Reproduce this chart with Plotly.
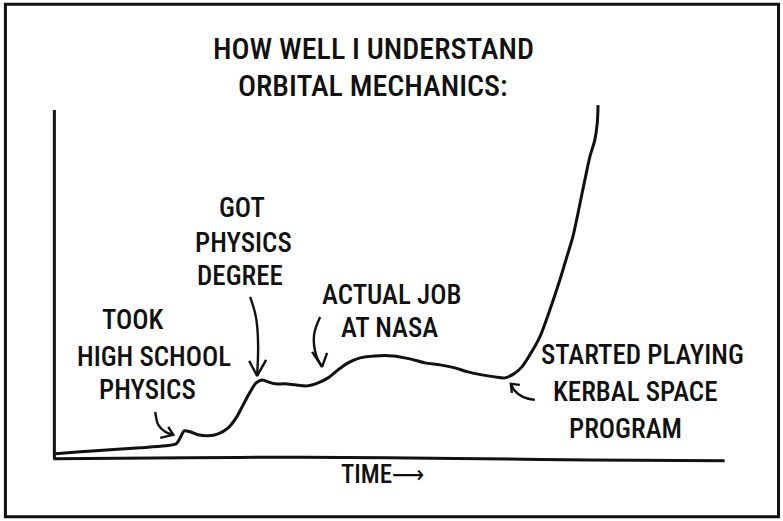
import plotly.graph_objects as go

# ---- data (time in arbitrary units 0-100, understanding 0-100) ----
time = [0.15, 3.89, 8.37, 12.86, 16.59, 18.24, 18.83, 19.43, 20.33, 21.52, 23.02, 24.51,
        26.01, 27.20, 28.25, 29.30, 30.19, 31.09, 31.99, 33.03, 34.53, 36.02, 37.82, 39.46,
        40.96, 42.45, 43.95, 45.74, 47.98, 50.67, 53.21, 55.46, 57.70, 59.94, 61.88, 63.98,
        65.92, 67.41, 68.76, 69.96, 71.15, 72.65, 74.14, 75.64, 76.68, 77.58, 79.07, 80.12,
        80.87, 81.24, 81.36]
understanding = [1.41, 1.97, 2.54, 3.10, 3.66, 4.23, 5.92, 7.89, 7.61, 6.76, 6.48, 7.04,
                 8.73, 11.55, 15.21, 18.87, 21.41, 22.25, 21.69, 21.13, 21.13, 20.85, 20.56, 21.41,
                 22.82, 25.07, 27.04, 28.45, 29.01, 29.01, 28.17, 27.04, 26.48, 25.63, 24.51, 23.66,
                 23.10, 22.82, 23.94, 25.92, 29.30, 34.37, 41.97, 50.42, 56.90, 62.54, 75.77, 85.07,
                 89.86, 94.65, 99.72]

title_lines = ["HOW WELL I UNDERSTAND", "ORBITAL MECHANICS:"]
x_label = "TIME⟶"

# event labels: (text lines, x per line, y per line)
labels = [
    (["TOOK", "HIGH SCHOOL", "PHYSICS"], [11.8, 14.9, 13.9], [39.2, 28.7, 19.4]),
    (["GOT", "PHYSICS", "DEGREE"], [28.1, 28.3, 27.8], [70.7, 60.8, 51.5]),
    (["ACTUAL JOB", "AT NASA"], [50.4, 50.2], [46.2, 36.9]),
    (["STARTED PLAYING", "KERBAL SPACE", "PROGRAM"], [88.0, 87.0, 85.4], [29.3, 18.9, 8.5]),
]

# pointer arrows: stem path and two barbs (tip is last stem point)
arrows = [
    ([15.10, 15.55, 16.59, 17.79], [13.24, 9.58, 7.61, 6.76], [15.84, 17.04], [5.92, 9.01]),
    ([29.30, 30.19, 30.49, 30.34], [45.63, 39.72, 32.11, 23.38], [29.15, 31.69], [27.61, 27.89]),
    ([39.76, 38.86, 39.16, 40.06], [40.0, 34.93, 29.30, 25.92], [38.57, 40.81], [30.14, 29.86]),
    ([71.90, 70.10, 68.91, 68.31], [16.62, 17.46, 19.15, 21.13], [69.66, 68.46], [20.85, 18.59]),
]

axis_x_line = ([-0.15, 20, 37, 60, 80, 100.3], [0.0, 0.3, 0.45, 0.1, -0.3, -0.56])
axis_y_line = ([0.0, -0.05, 0.0], [0.0, 50, 98.3])

FONT = "Roboto Condensed, DejaVu Sans Condensed, sans-serif"
INK = "#111111"
FS = 27

fig = go.Figure()

# axes drawn as hand lines
fig.add_trace(go.Scatter(x=axis_y_line[0], y=axis_y_line[1], mode="lines",
                         line=dict(color=INK, width=3), hoverinfo="skip"))
fig.add_trace(go.Scatter(x=axis_x_line[0], y=axis_x_line[1], mode="lines",
                         line=dict(color=INK, width=3, shape="spline"), hoverinfo="skip"))

# main curve
fig.add_trace(go.Scatter(x=time, y=understanding, mode="lines",
                         line=dict(color=INK, width=3, shape="spline", smoothing=0.8),
                         hoverinfo="skip"))

# arrows
for sx, sy, bx, by in arrows:
    fig.add_trace(go.Scatter(x=sx, y=sy, mode="lines",
                             line=dict(color=INK, width=2.4, shape="spline"), hoverinfo="skip"))
    tipx, tipy = sx[-1], sy[-1]
    fig.add_trace(go.Scatter(x=[bx[0], tipx, bx[1]], y=[by[0], tipy, by[1]], mode="lines",
                             line=dict(color=INK, width=2.4), hoverinfo="skip"))

annotations = []
for t, yy in zip(title_lines, [1.130, 1.0316]):
    annotations.append(dict(text=t, x=0.4777, y=yy, xref="paper", yref="paper",
                            showarrow=False, font=dict(family=FONT, size=30, color=INK, weight=500),
                            xanchor="center", yanchor="middle"))
for lines, xs, ys in labels:
    for t, xx, yy in zip(lines, xs, ys):
        annotations.append(dict(text=t, x=xx, y=yy, xref="x", yref="y", showarrow=False,
                                font=dict(family=FONT, size=FS, color=INK, weight=500),
                                xanchor="center", yanchor="middle"))
annotations.append(dict(text=x_label, x=0.4907, y=-0.005, xref="paper", yref="paper",
                        showarrow=False, font=dict(family=FONT, size=25, color=INK, weight=500),
                        xanchor="center", yanchor="middle"))

fig.update_layout(
    width=783, height=521,
    margin=dict(l=40.6, r=46.6, t=96.9, b=47.8, pad=0),
    paper_bgcolor="white", plot_bgcolor="white",
    showlegend=False,
    xaxis=dict(range=[-2, 102], visible=False, fixedrange=True),
    yaxis=dict(range=[-4, 102], visible=False, fixedrange=True),
    annotations=annotations,
    shapes=[dict(type="rect", xref="paper", yref="paper",
                 x0=-0.0512, x1=1.0612, y0=-0.1164, y1=1.2469,
                 line=dict(color=INK, width=3), fillcolor="rgba(0,0,0,0)", layer="above")],
)

fig.write_html("out.html", config={"displayModeBar": False},
               post_script="document.body.style.margin='0';")
